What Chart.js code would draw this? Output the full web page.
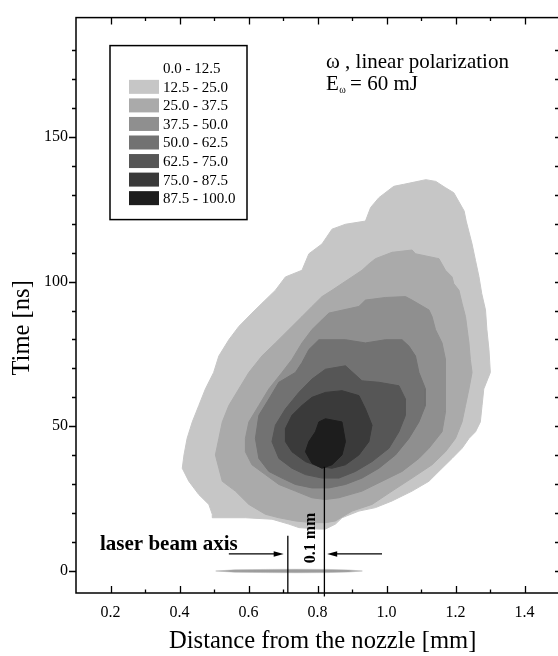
<!DOCTYPE html>
<html>
<head>
<meta charset="utf-8">
<script src="https://cdn.jsdelivr.net/npm/chart.js@4/dist/chart.umd.min.js"></script>
<style>
  html, body { margin: 0; padding: 0; overflow: hidden; background: #fff; }
  #wrap { width: 562px; height: 656px; }
</style>
</head>
<body>
<div id="wrap"><canvas id="c" width="562" height="656"></canvas></div>
<script>
// Intensity bands (legend text and grey shades)
const legendLabels = ['0.0 - 12.5', '12.5 - 25.0', '25.0 - 37.5', '37.5 - 50.0',
                      '50.0 - 62.5', '62.5 - 75.0', '75.0 - 87.5', '87.5 - 100.0'];
const levelColors = ['#ffffff', '#c6c6c6', '#aaaaaa', '#8f8f8f', '#727272', '#565656', '#3a3a3a', '#1d1d1d'];

// Axis ticks and titles
const xTicks = [0.2, 0.4, 0.6, 0.8, 1.0, 1.2, 1.4];
const yTicks = [0, 50, 100, 150];
const xRange = [0.1, 1.5];
const yRange = [-7.6, 191.2];
const xTitle = 'Distance from the nozzle [mm]';
const yTitle = 'Time [ns]';

// Contour outlines [distance mm, time ns], one per band
const band12 = [[1.021,132.9],[1.050,133.6],[1.074,134.2],[1.114,135.2],[1.143,134.6],[1.170,132.5],[1.195,130.7],
  [1.225,124.4],[1.231,120.9],[1.248,113.0],[1.258,107.3],[1.268,101.7],[1.276,95.9],[1.287,90.2],[1.291,83.4],
  [1.297,76.5],[1.301,68.6],[1.282,62.9],[1.277,57.2],[1.272,51.5],[1.258,48.1],[1.239,45.8],[1.219,42.4],
  [1.190,38.9],[1.161,35.5],[1.123,31.0],[1.074,27.6],[1.016,24.2],[0.968,21.9],[0.920,20.7],[0.871,18.4],
  [0.852,16.2],[0.823,14.5],[0.804,14.5],[0.746,15.0],[0.717,16.2],[0.668,17.9],[0.591,18.4],[0.495,18.4],
  [0.495,19.6],[0.485,23.0],[0.456,26.4],[0.427,31.0],[0.408,35.5],[0.413,40.1],[0.422,45.8],[0.437,51.5],
  [0.456,57.2],[0.475,62.9],[0.499,68.6],[0.514,74.3],[0.543,79.9],[0.572,84.5],[0.610,89.1],[0.639,92.5],
  [0.678,97.0],[0.707,101.6],[0.755,103.9],[0.775,109.6],[0.813,113.0],[0.842,118.1],[0.881,119.8],
  [0.939,120.9],[0.954,125.6],[0.978,129.0]];
const band25 = [[0.968,107.9],[1.016,110.1],[1.074,110.9],[1.084,109.6],[1.152,107.9],[1.171,103.9],[1.190,101.6],
  [1.195,99.3],[1.210,97.0],[1.219,92.5],[1.229,87.9],[1.234,83.4],[1.239,78.8],[1.243,73.1],[1.248,68.6],
  [1.239,62.9],[1.229,57.2],[1.219,51.5],[1.200,45.8],[1.171,41.2],[1.132,36.7],[1.074,32.1],[1.016,27.6],
  [0.958,23.0],[0.900,20.7],[0.852,17.3],[0.823,16.7],[0.784,16.7],[0.736,17.3],[0.688,18.4],[0.649,19.6],
  [0.601,23.0],[0.562,27.6],[0.524,31.0],[0.514,35.5],[0.504,40.1],[0.514,45.8],[0.524,51.5],[0.543,57.2],
  [0.572,62.9],[0.601,68.6],[0.639,74.3],[0.678,78.8],[0.717,83.4],[0.755,87.9],[0.784,91.4],[0.813,94.8],
  [0.842,97.0],[0.871,99.3],[0.900,101.6],[0.929,103.9],[0.949,106.1]];
const band37 = [[0.833,89.1],[0.920,91.4],[0.939,93.6],[0.997,94.5],[1.055,94.8],[1.074,93.6],[1.123,90.2],
  [1.132,87.9],[1.142,83.4],[1.161,78.8],[1.171,73.1],[1.171,68.6],[1.171,61.9],[1.171,55.0],[1.161,48.1],
  [1.123,42.4],[1.094,38.9],[1.045,34.4],[0.987,31.0],[0.929,27.6],[0.862,25.3],[0.823,24.7],[0.784,25.3],
  [0.736,27.6],[0.688,29.9],[0.649,33.3],[0.610,36.7],[0.591,41.2],[0.591,45.8],[0.601,51.5],[0.630,57.2],
  [0.659,62.9],[0.697,68.6],[0.726,73.1],[0.755,78.8],[0.784,83.4],[0.813,86.8]];
const band50 = [[0.804,79.9],[0.881,79.9],[0.939,78.8],[0.997,79.9],[1.045,79.9],[1.065,77.7],[1.084,74.3],
  [1.094,68.6],[1.113,62.9],[1.113,57.2],[1.094,51.5],[1.065,45.8],[1.026,40.1],[0.978,35.5],[0.929,32.1],
  [0.881,29.9],[0.833,28.7],[0.784,28.7],[0.736,29.9],[0.697,32.1],[0.659,34.4],[0.630,38.9],[0.620,45.8],
  [0.630,53.8],[0.659,59.4],[0.688,65.2],[0.736,68.6],[0.755,72.0],[0.775,76.5]];
const band62 = [[0.784,66.3],[0.746,61.7],[0.707,56.0],[0.678,50.4],[0.668,44.7],[0.688,38.9],[0.726,35.5],
  [0.765,33.3],[0.813,32.1],[0.862,32.1],[0.910,34.4],[0.958,37.8],[1.007,42.4],[1.036,48.1],[1.055,53.8],
  [1.055,59.4],[1.036,64.0],[0.978,65.2],[0.929,65.7],[0.881,70.9],[0.823,69.7]];
const band75 = [[0.823,61.7],[0.871,62.3],[0.920,60.6],[0.939,56.0],[0.958,50.4],[0.949,44.7],[0.920,40.1],
  [0.881,36.7],[0.842,35.5],[0.804,36.1],[0.765,37.8],[0.726,41.2],[0.707,44.7],[0.707,49.2],[0.726,53.8],
  [0.755,57.2],[0.784,60.0]];
const band87 = [[0.823,52.6],[0.871,51.5],[0.876,48.1],[0.881,44.7],[0.871,40.1],[0.842,36.7],[0.813,35.5],
  [0.784,37.2],[0.765,41.2],[0.775,44.7],[0.794,48.1],[0.804,51.5]];

// Trace of the laser beam axis at t = 0
const beamAxis = [[0.505,0],[0.56,0.4],[0.65,0.55],[0.74,0.6],[0.83,0.55],[0.89,0.35],[0.93,0],
  [0.89,-0.35],[0.83,-0.55],[0.74,-0.6],[0.65,-0.55],[0.56,-0.4]];

// 0.1 mm marker lines and arrows
const markerLeft = [[0.714,-7.6],[0.714,12.2]];
const markerRight = [[0.82,-8.8],[0.82,36.0]];
const arrowIn = [[0.543,5.9],[0.702,5.9]];
const arrowOut = [[0.987,5.9],[0.828,5.9]];

const SERIF = '"Liberation Serif", "Times New Roman", serif';
const toPts = arr => arr.map(([x, y]) => ({x, y}));
const closed = arr => toPts(arr.concat([arr[0]]));

const bands = [band12, band25, band37, band50, band62, band75, band87];
const datasets = bands.map((b, i) => ({
  data: closed(b),
  fill: 'shape',
  backgroundColor: levelColors[i + 1],
  borderColor: levelColors[i + 1],
  borderWidth: 1,
  pointRadius: 0,
  tension: 0,
  order: 20 - i
}));
datasets.push({
  data: closed(beamAxis), fill: 'shape', backgroundColor: '#9c9c9c', borderColor: '#b0b0b0',
  borderWidth: 0.5, pointRadius: 0, tension: 0, order: 2
});
datasets.push({
  data: toPts(markerLeft), fill: false, borderColor: '#000', borderWidth: 1.3, pointRadius: 0, order: 1, clip: false
});
datasets.push({
  data: toPts(markerRight), fill: false, borderColor: '#000', borderWidth: 1.3, pointRadius: 0, order: 1, clip: false
});

// Box frame with tick marks on all four sides, plus axis titles
const frameTicks = {
  id: 'frameTicks',
  afterDraw(chart) {
    const {ctx, chartArea: a, scales: {x, y}} = chart;
    ctx.save();
    ctx.strokeStyle = '#000';
    ctx.lineWidth = 1.5;
    ctx.strokeRect(a.left, a.top, a.right - a.left, a.bottom - a.top);
    ctx.lineWidth = 1.3;
    ctx.beginPath();
    for (let k = 2; k <= 14; k++) {
      const px = Math.round(x.getPixelForValue(k / 10)) + 0.5;
      const len = k % 2 === 0 ? 7 : 3.5;
      ctx.moveTo(px, a.bottom); ctx.lineTo(px, a.bottom - len);
      ctx.moveTo(px, a.top); ctx.lineTo(px, a.top + len);
    }
    for (let v = 0; v <= 180; v += 10) {
      const py = Math.round(y.getPixelForValue(v)) + 0.5;
      const len = v % 50 === 0 ? 7 : 4;
      ctx.moveTo(a.left, py); ctx.lineTo(a.left - len, py);
      ctx.moveTo(a.right, py); ctx.lineTo(a.right - 4, py);
    }
    ctx.stroke();

    ctx.fillStyle = '#000';
    ctx.textAlign = 'center';
    ctx.textBaseline = 'middle';
    ctx.font = '24.6px ' + SERIF;
    ctx.fillText(xTitle, x.getPixelForValue(0.815), a.bottom + 49);
    ctx.save();
    ctx.translate(23, y.getPixelForValue(84));
    ctx.rotate(-Math.PI / 2);
    ctx.font = '24.6px ' + SERIF;
    ctx.fillText(yTitle, 0, 0);
    ctx.restore();
    ctx.restore();
  }
};

// Legend box, text notes and the 0.1 mm arrows
const notes = {
  id: 'notes',
  afterDraw(chart) {
    const {ctx, chartArea: a, scales: {x, y}} = chart;
    ctx.save();
    const bx = a.left + 34, by = a.top + 28, bw = 137, bh = 174;
    ctx.fillStyle = '#fff';
    ctx.fillRect(bx, by, bw, bh);
    ctx.strokeStyle = '#000';
    ctx.lineWidth = 1.5;
    ctx.strokeRect(bx, by, bw, bh);
    ctx.font = '15px ' + SERIF;
    ctx.textBaseline = 'middle';
    ctx.textAlign = 'left';
    legendLabels.forEach((lab, i) => {
      const cy = by + 22.7 + i * 18.55;
      if (i > 0) {
        ctx.fillStyle = levelColors[i];
        ctx.fillRect(bx + 19, cy - 7, 30, 14);
      }
      ctx.fillStyle = '#000';
      ctx.fillText(lab, bx + 53, cy + 1);
    });

    ctx.textBaseline = 'alphabetic';
    ctx.font = '21px ' + SERIF;
    const tx = a.left + 250;
    ctx.fillText('ω , linear polarization', tx, a.top + 50);
    ctx.fillText('E', tx, a.top + 72.5);
    const eW = ctx.measureText('E').width;
    ctx.font = '10px ' + SERIF;
    ctx.fillText('ω', tx + eW + 0.5, a.top + 75.5);
    ctx.font = '21px ' + SERIF;
    ctx.fillText(' = 60 mJ', tx + eW + 6, a.top + 72.5);

    ctx.font = 'bold 21px ' + SERIF;
    ctx.fillText('laser beam axis', a.left + 24, y.getPixelForValue(7.3));

    ctx.save();
    ctx.translate(x.getPixelForValue(0.794), y.getPixelForValue(11.4));
    ctx.rotate(-Math.PI / 2);
    ctx.textAlign = 'center';
    ctx.font = 'bold 16px ' + SERIF;
    ctx.fillText('0.1 mm', 0, 0);
    ctx.restore();

    ctx.strokeStyle = '#000';
    ctx.fillStyle = '#000';
    ctx.lineWidth = 1.2;
    [arrowIn, arrowOut].forEach(([p0, p1]) => {
      const x0 = x.getPixelForValue(p0[0]), y0 = y.getPixelForValue(p0[1]);
      const x1 = x.getPixelForValue(p1[0]), y1 = y.getPixelForValue(p1[1]);
      const dir = Math.sign(x1 - x0);
      ctx.beginPath();
      ctx.moveTo(x0, y0); ctx.lineTo(x1 - dir * 8, y1);
      ctx.stroke();
      ctx.beginPath();
      ctx.moveTo(x1, y1);
      ctx.lineTo(x1 - dir * 10, y1 - 2.8);
      ctx.lineTo(x1 - dir * 10, y1 + 2.8);
      ctx.closePath();
      ctx.fill();
    });
    ctx.restore();
  }
};

new Chart(document.getElementById('c'), {
  type: 'line',
  data: { datasets },
  options: {
    responsive: false,
    animation: false,
    devicePixelRatio: 1,
    layout: { padding: { top: 11, right: 3, left: 0, bottom: 0 } },
    plugins: { legend: { display: false }, tooltip: { enabled: false } },
    elements: { line: { tension: 0 } },
    scales: {
      x: {
        type: 'linear', position: 'bottom', min: xRange[0], max: xRange[1],
        afterFit: s => { s.height = 63; },
        afterBuildTicks: s => { s.ticks = xTicks.map(v => ({ value: v })); },
        grid: { display: false, drawTicks: false },
        border: { display: false },
        ticks: { color: '#000', font: { family: SERIF, size: 16 }, padding: 10,
                 maxRotation: 0, autoSkip: false, callback: v => Number(v).toFixed(1) }
      },
      y: {
        type: 'linear', position: 'left', min: yRange[0], max: yRange[1],
        afterFit: s => { s.width = 76; },
        afterBuildTicks: s => { s.ticks = yTicks.map(v => ({ value: v })); },
        grid: { display: false, drawTicks: false },
        border: { display: false },
        ticks: { color: '#000', font: { family: SERIF, size: 16 }, padding: 8,
                 autoSkip: false, callback: v => String(v) }
      }
    }
  },
  plugins: [frameTicks, notes]
});
</script>
</body>
</html>
